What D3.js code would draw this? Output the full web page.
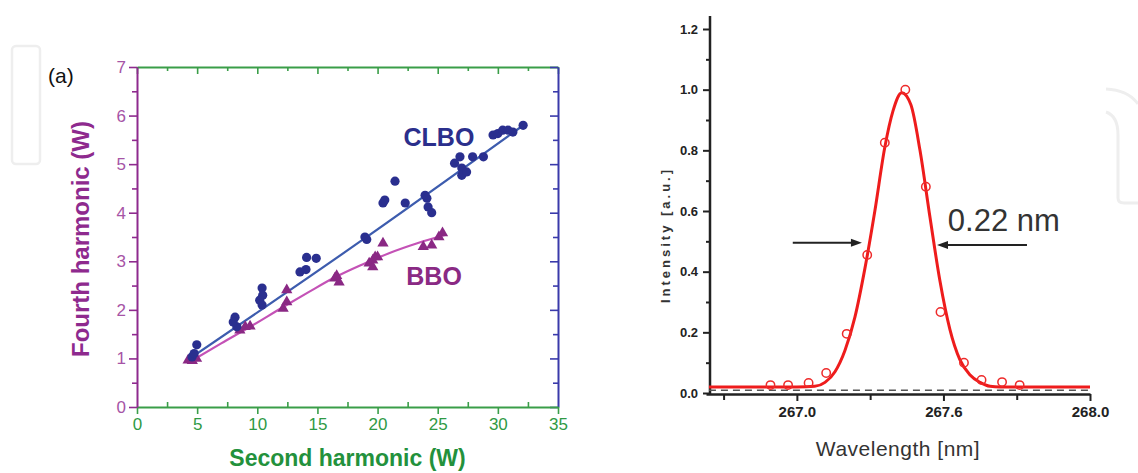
<!DOCTYPE html>
<html><head><meta charset="utf-8">
<script src="https://cdn.jsdelivr.net/npm/d3@7"></script>
<style>body{margin:0;background:#fff}svg{display:block}</style>
</head><body><svg id="c" width="1138" height="473"></svg>
<script>
// ---------- Panel (a): fourth vs second harmonic ----------
const clboSH = [4.57,4.97,4.75,8.15,8.3,8.0,10.4,10.45,10.4,10.2,13.55,14.05,14.1,14.9,18.95,19.1,20.45,20.6,21.45,22.3,23.95,24.1,24.2,24.5,26.4,26.85,27.0,27.0,27.4,27.9,28.8,29.6,30.0,30.4,30.85,31.25,32.1];
const clboFH = [1.03,1.28,1.1,1.85,1.65,1.75,2.45,2.3,2.1,2.2,2.78,2.83,3.08,3.06,3.5,3.45,4.2,4.26,4.65,4.2,4.36,4.3,4.12,4.0,5.02,5.15,4.92,4.77,4.84,5.15,5.15,5.6,5.63,5.7,5.7,5.66,5.8];
const bboSH = [4.25,4.95,4.6,8.55,9.0,9.4,12.15,12.45,12.45,16.45,16.8,16.6,19.3,19.6,20.0,20.45,19.6,19.8,23.8,24.5,25.4,25.1];
const bboFH = [0.96,1.0,0.95,1.58,1.65,1.66,2.03,2.16,2.41,2.65,2.57,2.7,2.96,3.02,3.09,3.37,2.88,3.09,3.3,3.33,3.58,3.5];
const clboFitSH = [4.4, 18.8, 32.0];
const clboFitFH = [1.0, 3.45, 5.78];
const bboFitSH = [4.4,7,9.4,12.15,14.3,16.3,18.7,21,23.3,25.6];
const bboFitFH = [0.93,1.31,1.65,2.06,2.37,2.65,2.93,3.17,3.37,3.54];
const shTicks = [0,5,10,15,20,25,30,35];
const fhTicks = [0,1,2,3,4,5,6,7];

// ---------- Panel (b): spectrum ----------
const specWl  = [266.70,266.90,267.00,267.061,267.096,267.130,267.164,267.198,267.232,267.266,267.300,267.328,267.358,267.389,267.420,267.454,267.488,267.522,267.556,267.590,267.625,267.659,267.693,267.80,268.00];
const specInt = [0.02,0.02,0.02,0.022,0.035,0.07,0.14,0.25,0.41,0.60,0.81,0.93,0.99,0.95,0.80,0.58,0.37,0.21,0.11,0.06,0.035,0.022,0.02,0.02,0.02];
const markWl  = [266.91,266.97,267.04,267.10,267.17,267.24,267.30,267.37,267.44,267.49,267.57,267.63,267.70,267.76];
const markInt = [0.026,0.026,0.033,0.066,0.195,0.455,0.825,1.0,0.68,0.267,0.10,0.043,0.036,0.026];
const wlTickValues = [267.0, 267.5, 268.0];
const wlTickLabels = ["267.0", "267.6", "268.0"];
const intTicks = [0.0,0.2,0.4,0.6,0.8,1.0,1.2];
const intTickLabels = ["0.0","0.2","0.4","0.6","0.8","1.0","1.2"];

const svg = d3.select('#c');
const FONT = '"Liberation Sans", Arial, sans-serif';
const NARROW = '"Liberation Sans Narrow", "Liberation Sans", Arial, sans-serif';

// watermark shapes (faint)
svg.append('rect').attr('x',12).attr('y',46).attr('width',28).attr('height',118).attr('rx',4)
  .attr('fill','none').attr('stroke','#eeeeee').attr('stroke-width',2.5);
svg.append('path').attr('d','M1106,89 Q1128,90 1138,104').attr('fill','none').attr('stroke','#eeeeee').attr('stroke-width',3);
svg.append('path').attr('d','M1106,112 Q1118,116 1118,135 L1118,198 Q1118,203 1124,203 L1138,203').attr('fill','none').attr('stroke','#eeeeee').attr('stroke-width',3);

// ===== panel a =====
const xL = d3.scaleLinear().domain([0,35]).range([137,558]);
const yL = d3.scaleLinear().domain([0,7]).range([407,67]);
const PURPLE='#8e2a8e', PURPLE_T='#a654a6', GREEN='#3a9e48', GREEN_T='#2f9a45', BLUE_AX='#3a3aaa';

function styleAxis(g, color, w){
  g.select('.domain').attr('stroke',color).attr('stroke-width',w);
  g.selectAll('.tick line').attr('stroke',color).attr('stroke-width',1.6);
}
const halves = d3.range(0.5,7,1);
const sh25 = d3.range(2.5,35,5);

let g;
g = svg.append('g').attr('transform',`translate(137,0)`).call(d3.axisLeft(yL).tickValues(halves).tickSize(5).tickFormat(''));
g.select('.domain').remove(); g.selectAll('line').attr('stroke',PURPLE).attr('stroke-width',1.6);
g = svg.append('g').attr('transform',`translate(0,407)`).call(d3.axisTop(xL).tickValues(sh25).tickSize(5).tickFormat(''));
g.select('.domain').remove(); g.selectAll('line').attr('stroke',GREEN).attr('stroke-width',1.6);
g = svg.append('g').attr('transform',`translate(0,67)`).call(d3.axisBottom(xL).tickValues(sh25).tickSize(4).tickFormat(''));
g.select('.domain').remove(); g.selectAll('line').attr('stroke',GREEN).attr('stroke-width',1.6);
g = svg.append('g').attr('transform',`translate(558,0)`).call(d3.axisLeft(yL).tickValues(halves).tickSize(5).tickFormat(''));
g.select('.domain').remove(); g.selectAll('line').attr('stroke',BLUE_AX).attr('stroke-width',1.6);

g = svg.append('g').attr('transform',`translate(0,67)`).call(d3.axisBottom(xL).tickValues(shTicks).tickSize(7).tickSizeOuter(0).tickFormat(''));
styleAxis(g, GREEN, 2);
g = svg.append('g').attr('transform',`translate(558,0)`).call(d3.axisLeft(yL).tickValues(fhTicks).tickSize(8).tickSizeOuter(0).tickFormat(''));
styleAxis(g, BLUE_AX, 2);
g = svg.append('g').attr('transform',`translate(0,407)`).call(d3.axisBottom(xL).tickValues(shTicks).tickSize(7).tickSizeOuter(0).tickPadding(4).tickFormat(d3.format('d')));
styleAxis(g, GREEN, 2);
g.selectAll('text').attr('fill',GREEN_T).attr('font-family',FONT).attr('font-size',17);
g = svg.append('g').attr('transform',`translate(137,0)`).call(d3.axisLeft(yL).tickValues(fhTicks).tickSize(8).tickSizeOuter(0).tickPadding(3).tickFormat(d3.format('d')));
styleAxis(g, PURPLE, 2);
g.selectAll('text').attr('fill',PURPLE_T).attr('font-family',FONT).attr('font-size',17);

const lineL = d3.line().curve(d3.curveMonotoneX);
svg.append('path').attr('d', lineL(bboFitSH.map((v,i)=>[xL(v),yL(bboFitFH[i])])))
  .attr('fill','none').attr('stroke','#c452b6').attr('stroke-width',2.2);
svg.append('path').attr('d', lineL(clboFitSH.map((v,i)=>[xL(v),yL(clboFitFH[i])])))
  .attr('fill','none').attr('stroke','#3d5cae').attr('stroke-width',2.2);

svg.append('g').selectAll('path').data(bboSH.map((v,i)=>[v,bboFH[i]])).join('path')
  .attr('d', d3.symbol(d3.symbolTriangle, 55)())
  .attr('transform', d=>`translate(${xL(d[0])},${yL(d[1])})`).attr('fill','#8a2884');
svg.append('g').selectAll('circle').data(clboSH.map((v,i)=>[v,clboFH[i]])).join('circle')
  .attr('cx', d=>xL(d[0])).attr('cy', d=>yL(d[1])).attr('r',4.6).attr('fill','#2a2f8f');

svg.append('text').attr('x',xL(25.1)).attr('y',yL(5.56)).attr('dy','0.36em').attr('text-anchor','middle')
  .attr('font-family',FONT).attr('font-weight','bold').attr('font-size',25).attr('fill','#2b2f8c').text('CLBO');
svg.append('text').attr('x',xL(24.7)).attr('y',yL(2.7)).attr('dy','0.36em').attr('text-anchor','middle')
  .attr('font-family',FONT).attr('font-weight','bold').attr('font-size',25).attr('fill','#8a2a84').text('BBO');
svg.append('text').attr('x',48).attr('y',83).attr('font-family',FONT).attr('font-size',21).attr('fill','#111').text('(a)');
svg.append('text').attr('transform',`translate(89,${(yL(0)+yL(7))/2 + 2}) rotate(-90)`).attr('text-anchor','middle')
  .attr('font-family',FONT).attr('font-weight','bold').attr('font-size',24).attr('fill','#8e2a8e').text('Fourth harmonic (W)');
svg.append('text').attr('x',(xL(0)+xL(35))/2).attr('y',466).attr('text-anchor','middle')
  .attr('font-family',FONT).attr('font-weight','bold').attr('font-size',23).attr('fill','#23913c').text('Second harmonic (W)');

// ===== panel b =====
const xR = d3.scaleLinear().domain([266.69, 268.0]).range([706, 1090]);
const yR = d3.scaleLinear().domain([0, 1.2]).range([393, 29]);
const DARK = '#222';
g = svg.append('g').attr('transform','translate(710,0)').call(d3.axisLeft(yR).tickValues(d3.range(0.1,1.2,0.2)).tickSize(4).tickFormat(''));
g.select('.domain').remove(); g.selectAll('line').attr('stroke',DARK).attr('stroke-width',2);
g = svg.append('g').attr('transform','translate(710,0)').call(d3.axisLeft(yR).tickValues(intTicks).tickSize(7).tickSizeOuter(0).tickPadding(5).tickFormat((d,i)=>intTickLabels[i]));
g.select('.domain').remove(); g.selectAll('line').attr('stroke',DARK).attr('stroke-width',2);
g.selectAll('text').attr('font-family',NARROW).attr('font-weight','bold').attr('font-size',13).attr('fill',DARK);
svg.append('line').attr('x1',710).attr('x2',710).attr('y1',yR(1.243)).attr('y2',yR(0)+1).attr('stroke',DARK).attr('stroke-width',2.5);
g = svg.append('g').attr('transform','translate(0,394)').call(d3.axisBottom(xR).tickValues([266.75,267.25,267.75]).tickSize(6).tickFormat(''));
g.select('.domain').remove(); g.selectAll('line').attr('stroke',DARK).attr('stroke-width',2);
g = svg.append('g').attr('transform','translate(0,394)').call(d3.axisBottom(xR).tickValues(wlTickValues).tickSize(7).tickSizeOuter(0).tickPadding(5).tickFormat((d,i)=>wlTickLabels[i]));
g.select('.domain').attr('stroke',DARK).attr('stroke-width',2.5);
g.selectAll('.tick line').attr('stroke',DARK).attr('stroke-width',2);
g.selectAll('text').attr('font-family',NARROW).attr('font-weight','bold').attr('font-size',15).attr('fill',DARK);

svg.append('line').attr('x1',xR(266.70)).attr('x2',xR(268.0)).attr('y1',yR(0.009)).attr('y2',yR(0.009))
  .attr('stroke','#555').attr('stroke-width',1.5).attr('stroke-dasharray','7,5');
svg.append('path').attr('d', d3.line().curve(d3.curveMonotoneX)(specWl.map((v,i)=>[xR(v),yR(specInt[i])])))
  .attr('fill','none').attr('stroke','#ee1c1c').attr('stroke-width',3);
svg.append('g').selectAll('circle').data(markWl.map((v,i)=>[v,markInt[i]])).join('circle')
  .attr('cx',d=>xR(d[0])).attr('cy',d=>yR(d[1])).attr('r',4.2).attr('fill','none').attr('stroke','#ee2a2a').attr('stroke-width',1.5);

const arrowFrom = [266.986, 267.785];
const arrowTo   = [267.222, 267.478];
const arrowLvl  = [0.495, 0.488];
arrowFrom.forEach((f,i)=>{
  const x1=xR(f), x2=xR(arrowTo[i]), y=yR(arrowLvl[i]);
  const dir = Math.sign(x2-x1);
  svg.append('line').attr('x1',x1).attr('x2',x2-dir*8).attr('y1',y).attr('y2',y).attr('stroke','#222').attr('stroke-width',2);
  svg.append('path').attr('d',`M${x2},${y} L${x2-dir*11},${y-4} L${x2-dir*11},${y+4} Z`).attr('fill','#222');
});
svg.append('text').attr('x',xR(267.515)).attr('y',yR(0.535)).attr('font-family',NARROW).attr('font-size',31).attr('fill','#333').text('0.22 nm');
svg.append('text').attr('x',(xR(266.69)+xR(268.0))/2).attr('y',456).attr('text-anchor','middle')
  .attr('font-family',NARROW).attr('font-size',21).attr('letter-spacing',0.5).attr('fill','#333').text('Wavelength [nm]');
svg.append('text').attr('transform',`translate(670,235) rotate(-90)`).attr('text-anchor','middle')
  .attr('font-family',NARROW).attr('font-weight','bold').attr('font-size',13).attr('letter-spacing',3).attr('fill','#333').text('Intensity [a.u.]');
</script></body></html>
